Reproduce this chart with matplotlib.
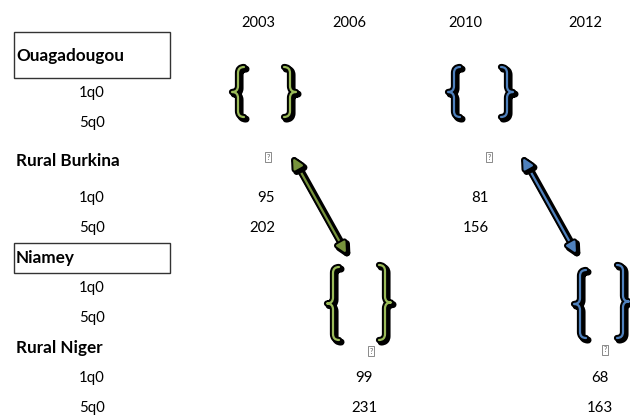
import matplotlib
matplotlib.use('Agg')
import matplotlib.pyplot as plt
import matplotlib.patheffects as pe
from matplotlib.path import Path
from matplotlib.patches import PathPatch, Rectangle

plt.rcParams['font.family'] = ['Lato', 'DejaVu Sans']

# data
years = ['2003', '2006', '2010', '2012']
regions = ['Ouagadougou', 'Rural Burkina', 'Niamey', 'Rural Niger']
indicators = ['1q0', '5q0']
burkina_2003 = [95, 202]
burkina_2010 = [81, 156]
niger_2006 = [99, 231]
niger_2012 = [68, 163]

GREEN = '#9bbb59'
DGREEN = '#77933c'
BLUE = '#4f81bd'

# layout (pixel coordinates)
year_x = [258, 349, 465, 585]
row_y = [56, 93, 123, 161, 198, 228, 258, 288, 318, 348, 378, 408]

fig = plt.figure(figsize=(6.3, 4.17), dpi=100)
ax = fig.add_axes([0, 0, 1, 1])
ax.set_xlim(0, 630)
ax.set_ylim(417, 0)
ax.axis('off')

for x, yr in zip(year_x, years):
    ax.text(x, 23, yr, ha='center', va='center', fontsize=10.5)

# region labels and indicator rows
for i, reg in enumerate(regions):
    y = row_y[i * 3]
    ax.text(16, y, reg, ha='left', va='center', fontsize=12.3, fontweight='bold')
    for j, ind in enumerate(indicators):
        ax.text(92, row_y[i * 3 + 1 + j], ind, ha='center', va='center', fontsize=10.8)

ax.add_patch(Rectangle((14, 32), 156, 46, fill=False, lw=1, ec='#333333'))
ax.add_patch(Rectangle((14, 243), 156, 30, fill=False, lw=1, ec='#333333'))

# values
for j in range(2):
    ax.text(275, row_y[4 + j], str(burkina_2003[j]), ha='right', va='center', fontsize=10.8)
    ax.text(489, row_y[4 + j], str(burkina_2010[j]), ha='right', va='center', fontsize=10.8)
    ax.text(364, row_y[10 + j], str(niger_2006[j]), ha='center', va='center', fontsize=10.8)
    ax.text(600, row_y[10 + j], str(niger_2012[j]), ha='center', va='center', fontsize=10.8)

# missing-glyph boxes from the source document
for x, y in [(268, 157), (489, 157), (371, 351), (605, 350)]:
    ax.text(x, y, '?', ha='center', va='center', fontsize=5, color='#555555',
            bbox=dict(boxstyle='square,pad=0.15', fc='white', ec='#777777', lw=0.6))


def brace(x, y0, y1, color, left=True, c=6, t=6):
    """curly brace with the spine at x"""
    ym = (y0 + y1) / 2
    d = 1 if left else -1
    verts = [(x + d * c, y0), (x, y0), (x, y0 + c),
             (x, ym - c), (x, ym), (x - d * t, ym),
             (x, ym), (x, ym + c),
             (x, y1 - c), (x, y1), (x + d * c, y1)]
    codes = [Path.MOVETO, Path.CURVE3, Path.CURVE3,
             Path.LINETO, Path.CURVE3, Path.CURVE3,
             Path.CURVE3, Path.CURVE3,
             Path.LINETO, Path.CURVE3, Path.CURVE3]
    p = PathPatch(Path(verts, codes), fill=False, ec=color, lw=1.6,
                  capstyle='round', joinstyle='round')
    p.set_path_effects([pe.Stroke(linewidth=5, foreground='black', offset=(1.5, -1.5)),
                        pe.Stroke(linewidth=4.5, foreground='black'), pe.Normal()])
    ax.add_patch(p)


brace(238, 67, 117, GREEN, left=True)
brace(290, 67, 117, GREEN, left=False)
brace(454, 67, 117, BLUE, left=True)
brace(507, 67, 117, BLUE, left=False)
brace(333, 267, 340, GREEN, left=True)
brace(385, 265, 340, GREEN, left=False)
brace(580, 270, 338, BLUE, left=True)
brace(623, 265, 338, BLUE, left=False)

# arrows
for (x0, y0, x1, y1, col) in [(293, 158, 346, 253, DGREEN), (523, 158, 576, 253, BLUE)]:
    ax.annotate('', xy=(x1, y1), xytext=(x0, y0),
                arrowprops=dict(arrowstyle='<|-|>,head_length=0.6,head_width=0.3',
                                color=col, lw=1.6, shrinkA=0, shrinkB=0,
                                path_effects=[pe.Stroke(linewidth=5, foreground='black', offset=(1.5, -1.5)),
                                              pe.Stroke(linewidth=4.5, foreground='black'), pe.Normal()]))

fig.savefig('out.png', dpi=100)
